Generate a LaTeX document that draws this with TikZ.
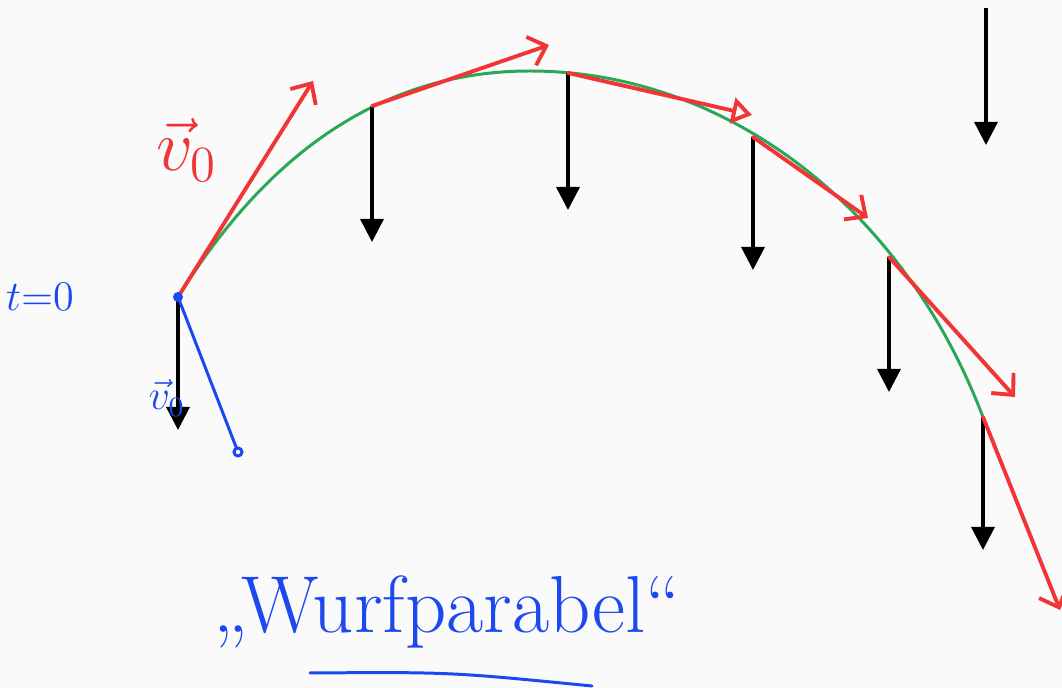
\documentclass[tikz,border=0pt]{standalone}
\usetikzlibrary{arrows.meta}
\definecolor{stiftrot}{RGB}{242,52,52}
\definecolor{stiftgruen}{RGB}{40,168,88}
\definecolor{stiftblau}{RGB}{28,72,240}
\tikzset{
  bahn/.style={stiftgruen, line width=0.85pt},
  kraft/.style={black, line width=0.95pt, -{Triangle[length=2.3mm,width=2.3mm]}},
  geschw/.style={stiftrot, line width=1.1pt, line cap=round, -{Straight Barb[length=1.6mm,width=3mm]}},
  stift/.style={stiftblau, line width=0.85pt, line cap=round},
}
\begin{document}
\begin{tikzpicture}[x=0.01cm, y=-0.01cm]
    \fill[white!98!black] (0,0) rectangle (1062,688);
    \useasboundingbox (0,0) rectangle (1062,688);

    % Punkte auf der Bahn
    \coordinate (p0) at (178,297);
    \coordinate (p1) at (372,106);
    \coordinate (p2) at (568,73);
    \coordinate (p3) at (753,137);
    \coordinate (p4) at (889,257);
    \coordinate (p5) at (983,417);
    \coordinate (scheitel) at (530,71);

    % Wurfparabel
    \draw[bahn] (p0) .. controls (272,146) and (389,71) .. (scheitel)
                     .. controls (720,71) and (900,200) .. (p5);

    % Gewichtskraft
    \coordinate (g0) at (178,430);
    \coordinate (g1) at (372,242);
    \coordinate (g2) at (568,210);
    \coordinate (g3) at (753,270);
    \coordinate (g4) at (889,392);
    \coordinate (g5) at (983,550);
    \coordinate (ga) at (986,8);
    \coordinate (gb) at (986,145);
    \foreach \i in {0,...,5}
        \draw[kraft] (p\i) -- (g\i);
    \draw[kraft] (ga) -- (gb);

    % Geschwindigkeit
    \coordinate (v0) at (313,81);
    \coordinate (v1) at (549,45);
    \coordinate (v2) at (752,115);
    \coordinate (v3) at (868,218);
    \coordinate (v4) at (1015,397);
    \coordinate (v5) at (1060,610);
    \draw[geschw] (p0) -- (v0);
    \draw[geschw] (p1) -- (v1);
    \draw[geschw, -{Triangle[open,length=2mm,width=2.6mm]}] (p2) -- (v2);
    \draw[geschw] (p3) -- (v3);
    \draw[geschw] (p4) -- (v4);
    \draw[geschw] (p5) -- (v5);

    % Beschriftung
    \node[stiftrot] (vnull) at (187,150) {\huge $\vec{v}_0$};
    \node[stiftblau] (tnull) at (40,297) {\large $t{=}0$};
    \node[stiftblau] (vunten) at (167,398) {\large $\vec{v}_0$};

    \fill[stiftblau] (p0) circle (5);
    \node[circle, draw=stiftblau, line width=0.85pt, inner sep=0pt, minimum size=0.08cm] (q) at (238,452) {};
    \draw[stift] (p0) -- (q);

    \node[stiftblau] (titel) at (447,612) {\fontsize{23}{28}\selectfont „Wurfparabel“};
    \coordinate (u1) at (310,673);
    \coordinate (u2) at (592,686);
    \draw[stift] (u1) .. controls (450,672) .. (u2);
\end{tikzpicture}
\end{document}
